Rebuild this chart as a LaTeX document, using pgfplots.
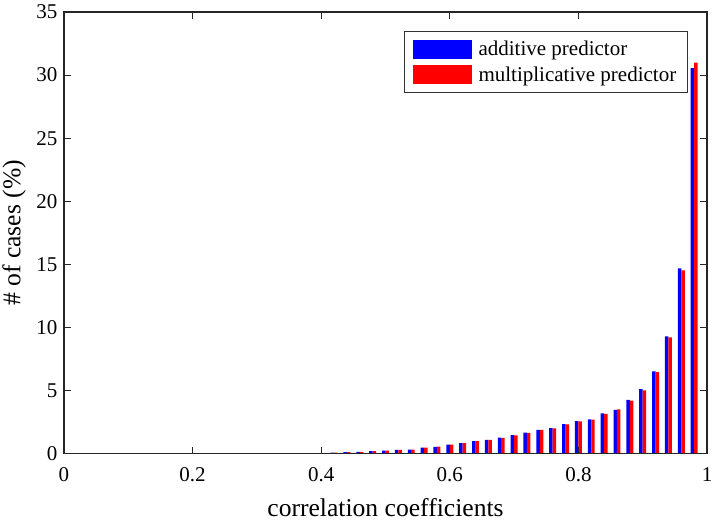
\documentclass[border=0pt]{standalone}
\usepackage{pgfplots}
\usepackage{pgfplotstable}
\pgfplotsset{compat=1.18}
\usepackage{fontspec}
\setmainfont{Liberation Serif}

\pgfplotstableread{
x     add    mult
0.30  0.005  0.005
0.32  0.01   0.01
0.34  0.01   0.015
0.36  0.02   0.02
0.38  0.03   0.035
0.40  0.05   0.05
0.42  0.09   0.09
0.44  0.12   0.12
0.46  0.15   0.15
0.48  0.20   0.20
0.50  0.24   0.24
0.52  0.30   0.30
0.54  0.33   0.33
0.56  0.48   0.48
0.58  0.55   0.56
0.60  0.72   0.73
0.62  0.84   0.85
0.64  1.00   1.00
0.66  1.10   1.10
0.68  1.27   1.26
0.70  1.47   1.46
0.72  1.67   1.66
0.74  1.90   1.89
0.76  2.03   2.01
0.78  2.35   2.33
0.80  2.59   2.56
0.82  2.72   2.70
0.84  3.20   3.16
0.86  3.47   3.52
0.88  4.26   4.20
0.90  5.12   5.03
0.92  6.53   6.47
0.94  9.30   9.21
0.96  14.69  14.53
0.98  30.55  30.98
}\datatable

\begin{document}
\begin{tikzpicture}
\begin{axis}[
  scale only axis,
  width=482.25pt, height=331.3pt,
  xmin=0, xmax=1, ymin=0, ymax=35,
  xtick={0,0.2,0.4,0.6,0.8,1},
  xticklabels={0,0.2,0.4,0.6,0.8,1},
  ytick={0,5,10,15,20,25,30,35},
  xtick align=inside, ytick align=inside,
  xtick pos=both, ytick pos=both,
  major tick length=5pt,
  axis line style={black!85, line width=0.8pt},
  tick style={black!85, line width=0.8pt},
  tick label style={font=\fontsize{15.75}{18}\selectfont},
  /pgf/number format/assume math mode=true,
  xticklabel style={yshift=-7pt},
  yticklabel style={xshift=-1.5pt},
  xlabel={correlation coefficients},
  ylabel={\# of cases (\%)},
  label style={font=\fontsize{19.2}{22}\selectfont},
  xlabel style={at={(axis description cs:0.5,-0.121)}, anchor=center},
  ylabel style={at={(axis description cs:-0.0778,0.5)}, anchor=center},
  axis on top,
  legend style={at={(0.9705,0.957)}, anchor=north east, draw=black!80,
    line width=0.7pt, font=\fontsize{15.75}{18}\selectfont,
    inner xsep=6.5pt, inner ysep=5.25pt, row sep=2.7pt, cells={anchor=west}},
]
\addplot[ybar, bar width=0.0054, fill=blue, draw=none, bar shift=-0.0027,
  legend image code/.code={\fill[blue] (0pt,-7.125pt) rectangle (44.25pt,7.125pt);\path (47.25pt,0pt);}]
  table[x=x, y=add] {\datatable};
\addlegendentry{additive predictor}
\addplot[ybar, bar width=0.0054, fill=red, draw=none, bar shift=0.0027,
  legend image code/.code={\fill[red] (0pt,-7.125pt) rectangle (44.25pt,7.125pt);\path (47.25pt,0pt);}]
  table[x=x, y=mult] {\datatable};
\addlegendentry{multiplicative predictor}
\coordinate (sw) at (rel axis cs:0,0);
\coordinate (ne) at (rel axis cs:1,1);
\end{axis}
\pgfresetboundingbox
\path[use as bounding box] ([xshift=-48pt,yshift=-50.5pt]sw) rectangle ([xshift=5.25pt,yshift=9pt]ne);
\end{tikzpicture}
\end{document}
